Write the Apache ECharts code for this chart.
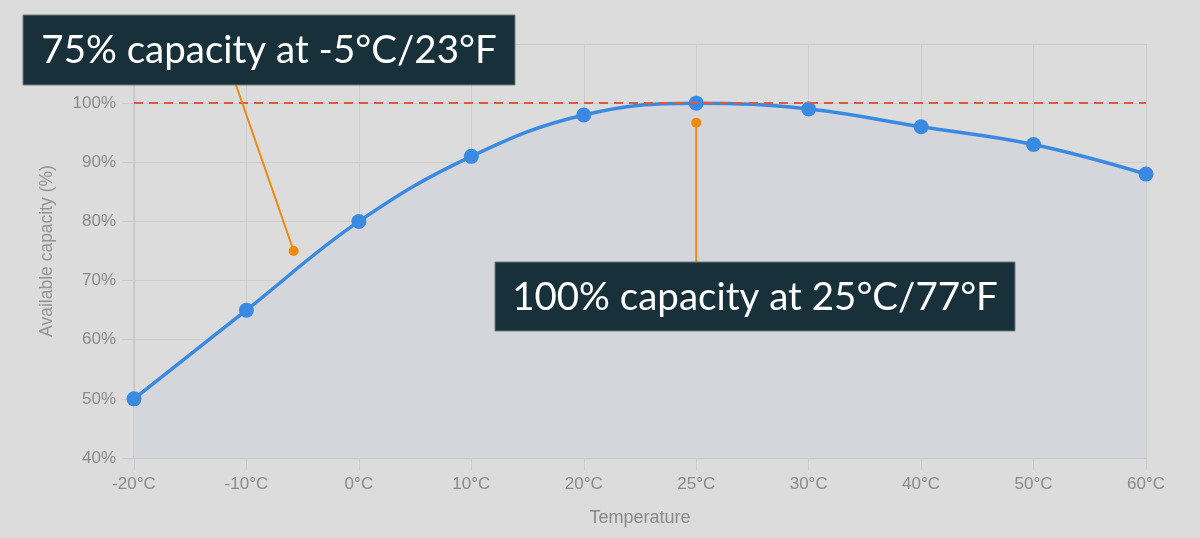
<!DOCTYPE html>
<html><head><meta charset="utf-8">
<style>html,body{margin:0;padding:0;background:#dcdcdc;}#c{width:1200px;height:538px;}</style>
<script src="https://cdn.jsdelivr.net/npm/echarts@6/dist/echarts.min.js"></script>
</head><body><div id="c"></div>
<script>
const categories = ['-20°C','-10°C','0°C','10°C','20°C','25°C','30°C','40°C','50°C','60°C'];
const capacity = [50, 65, 80, 91, 98, 100, 99, 96, 93, 88];
const referenceLevel = 100;
const yTicks = {min: 40, max: 110, interval: 10};
// annotation anchors in data space: [category index (may be fractional), value]
const note1Text = '75% capacity at -5°C/23°F';
const note1Point = [1.42, 75];
const note2Text = '100% capacity at 25°C/77°F';
const note2Point = [5, 96.7];

const FONT = 'Liberation Sans';
const chart = echarts.init(document.getElementById('c'));
const option = {
  backgroundColor: '#dcdcdc',
  animation: false,
  grid: {left: 134, right: 54, top: 44, bottom: 80},
  xAxis: {
    type: 'category', data: categories, boundaryGap: false,
    name: 'Temperature', nameLocation: 'middle', nameGap: 51,
    nameTextStyle: {color: '#8a8a8a', fontSize: 18, fontFamily: FONT},
    axisLine: {lineStyle: {color: '#c6c6c8', width: 1.5}},
    axisTick: {show: true, length: 12, lineStyle: {color: '#cdcdcf'}},
    axisLabel: {color: '#8a8a8a', fontSize: 17, margin: 18, fontFamily: FONT},
    splitLine: {show: true, lineStyle: {color: '#cdcdd0'}}
  },
  yAxis: {
    type: 'value', min: yTicks.min, max: yTicks.max, interval: yTicks.interval,
    name: 'Available capacity (%)', nameLocation: 'middle', nameGap: 78,
    nameTextStyle: {color: '#939393', fontSize: 17.5, fontFamily: FONT},
    axisLine: {show: true, lineStyle: {color: '#c6c6c8', width: 1.5}},
    axisTick: {show: true, length: 12, lineStyle: {color: '#cdcdcf'}},
    axisLabel: {color: '#8a8a8a', fontSize: 17, margin: 18, fontFamily: FONT, formatter: '{value}%'},
    splitLine: {show: true, lineStyle: {color: '#cdcdd0'}}
  },
  series: [{
    type: 'line', data: capacity, smooth: 0.4,
    symbol: 'circle', symbolSize: 15,
    lineStyle: {color: '#3a8ae2', width: 3.5},
    itemStyle: {color: '#3a8ae2'},
    areaStyle: {color: '#d5d6dc', opacity: 1},
    markLine: {
      silent: true, symbol: 'none', label: {show: false},
      lineStyle: {color: '#dd5a3c', type: [9, 6], width: 2},
      data: [{yAxis: referenceLevel}]
    },
    z: 3
  }]
};
chart.setOption(option);

// category axis snaps to integer indices, so interpolate between neighbours
function toPixel(pt) {
  const i0 = Math.floor(pt[0]), i1 = Math.ceil(pt[0]);
  const a = chart.convertToPixel({gridIndex: 0}, [i0, pt[1]]);
  const b = chart.convertToPixel({gridIndex: 0}, [i1, pt[1]]);
  const t = pt[0] - i0;
  return [a[0] + (b[0] - a[0]) * t, a[1]];
}
const p1 = toPixel(note1Point);
const p2 = toPixel(note2Point);
const box1 = {x: 23, y: 15, w: 492, h: 70};
const box2 = {x: 495, y: 262, w: 520, h: 69};
const orange = '#f08a0c';
const boxFill = '#17303a';
const textStyle = {fill: '#ffffff', fontSize: 38.5, fontFamily: 'Lato', textAlign: 'center', textVerticalAlign: 'middle'};
chart.setOption({
  graphic: [
    {type: 'line', shape: {x1: 236, y1: box1.y + box1.h, x2: p1[0], y2: p1[1]}, style: {stroke: orange, lineWidth: 2}, z: 10},
    {type: 'circle', shape: {cx: p1[0], cy: p1[1], r: 5}, style: {fill: orange}, z: 10},
    {type: 'line', shape: {x1: p2[0], y1: p2[1], x2: p2[0], y2: box2.y}, style: {stroke: orange, lineWidth: 2}, z: 10},
    {type: 'circle', shape: {cx: p2[0], cy: p2[1], r: 5}, style: {fill: orange}, z: 10},
    {type: 'rect', shape: {x: box1.x, y: box1.y, width: box1.w, height: box1.h}, style: {fill: boxFill, stroke: '#6f7d80', lineWidth: 1}, z: 11},
    {type: 'text', x: box1.x + box1.w / 2, y: box1.y + box1.h / 2 + 1, style: Object.assign({text: note1Text}, textStyle), z: 12},
    {type: 'rect', shape: {x: box2.x, y: box2.y, width: box2.w, height: box2.h}, style: {fill: boxFill, stroke: '#6f7d80', lineWidth: 1}, z: 11},
    {type: 'text', x: box2.x + box2.w / 2, y: box2.y + box2.h / 2 + 1, style: Object.assign({text: note2Text}, textStyle), z: 12}
  ]
});
</script></body></html>
